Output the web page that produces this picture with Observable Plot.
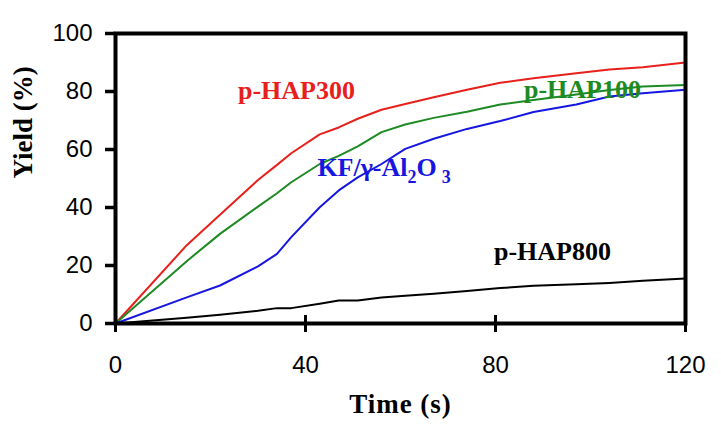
<!DOCTYPE html>
<html>
<head>
<meta charset="utf-8">
<script src="https://cdn.jsdelivr.net/npm/d3@7"></script>
<script src="https://cdn.jsdelivr.net/npm/@observablehq/plot@0.6"></script>
<style>
  html, body { margin: 0; padding: 0; background: #fff; }
  #chart svg { display: block; }
</style>
</head>
<body>
<div id="chart"></div>
<script>
// Time points (s)
const time = [0, 15, 22, 30, 34, 37, 43, 47, 51, 56, 61, 67, 74, 81, 88, 97, 104, 111, 120];
// Yield (%) per catalyst
const pHAP300 = [0, 27, 37.5, 49.5, 54.7, 58.7, 65.2, 67.6, 70.6, 73.7, 75.7, 78, 80.6, 83, 84.6, 86.3, 87.6, 88.4, 90];
const pHAP100 = [0, 21.5, 30.9, 40.3, 44.9, 48.7, 55, 57.8, 61.1, 66, 68.6, 70.9, 73, 75.5, 77.1, 79, 80.5, 81.7, 82.2];
const kfAl2O3 = [0, 9, 13.1, 19.7, 24, 29.8, 40.1, 45.9, 50.4, 55, 60.2, 63.7, 67.1, 69.8, 72.9, 75.5, 78.3, 79.4, 80.6];
const pHAP800 = [0, 2, 3, 4.4, 5.3, 5.3, 6.8, 7.9, 7.9, 9, 9.6, 10.3, 11.2, 12.2, 13, 13.5, 14, 14.7, 15.5];
const xTicks = [0, 40, 80, 120];
const yTicks = [0, 20, 40, 60, 80, 100];

const seriesNames = ["p-HAP300", "p-HAP100", "KF/γ-Al2O3", "p-HAP800"];
const seriesValues = [pHAP300, pHAP100, kfAl2O3, pHAP800];
const colors = ["#e8201c", "#1d8a22", "#1616e0", "#000000"];

const rows = seriesNames.flatMap((name, i) =>
  time.map((t, j) => ({series: name, time: t, yield: seriesValues[i][j]})));

const serif = "'Liberation Serif', 'Times New Roman', serif";

const chart = Plot.plot({
  width: 721,
  height: 442,
  marginLeft: 115,
  marginRight: 36,
  marginTop: 33,
  marginBottom: 119,
  style: {fontFamily: "'Liberation Sans', Arial, sans-serif", fontSize: "24px", background: "#fff", color: "#000"},
  x: {domain: [0, 120]},
  y: {domain: [0, 100]},
  color: {domain: seriesNames, range: colors},
  marks: [
    Plot.lineY(rows, {x: "time", y: "yield", z: "series", stroke: "series", strokeWidth: 2}),
    Plot.axisY({ticks: yTicks, tickSize: 10, tickPadding: 13, strokeWidth: 3.5, label: null, fontSize: 24}),
    Plot.axisX({ticks: xTicks, tickSize: 9, tickPadding: 23, strokeWidth: 3, label: null, fontSize: 24}),
    Plot.axisX({ticks: xTicks, tickSize: -8, text: null, strokeWidth: 3, label: null}),
    Plot.frame({strokeWidth: 4}),
    Plot.text(["Time (s)"], {frameAnchor: "bottom", dy: 89, fontFamily: serif, fontWeight: "bold", fontSize: 27, text: d => d}),
    Plot.text(["Yield (%)"], {frameAnchor: "left", dx: -92, rotate: -90, fontFamily: serif, fontWeight: "bold", fontSize: 27, text: d => d}),
    Plot.text(["p-HAP300"], {x: 38.1, y: 80.3, text: d => d, fill: colors[0], fontFamily: serif, fontWeight: "bold", fontSize: 26}),
    Plot.text(["p-HAP100"], {x: 98.3, y: 80.8, text: d => d, fill: colors[1], fontFamily: serif, fontWeight: "bold", fontSize: 26}),
    Plot.text(["p-HAP800"], {x: 92, y: 24.8, text: d => d, fill: colors[3], fontFamily: serif, fontWeight: "bold", fontSize: 26}),
    Plot.text(["KF/γ-Al2O3"], {x: 42.5, y: 53.8, text: d => d, textAnchor: "start", fill: colors[2], fontFamily: serif, fontWeight: "bold", fontSize: 26})
  ]
});

// Subscripts for the KF/γ-Al2O3 label
for (const t of chart.querySelectorAll("text")) {
  if (t.textContent === "KF/γ-Al2O3") {
    t.textContent = "";
    const parts = [["KF/γ-Al", false], ["2", true], ["O", false], ["3", true]];
    const ns = "http://www.w3.org/2000/svg";
    for (const [s, sub] of parts) {
      const ts = document.createElementNS(ns, "tspan");
      ts.textContent = s;
      if (sub) {
        ts.setAttribute("font-size", "18");
        ts.setAttribute("dy", "7");
        if (s === "3") ts.setAttribute("dx", "5");
      } else if (s === "O") {
        ts.setAttribute("dy", "-7");
      }
      t.appendChild(ts);
    }
  }
  if (t.textContent === "Time (s)") t.setAttribute("letter-spacing", "1");
}

document.getElementById("chart").appendChild(chart);
</script>
</body>
</html>
